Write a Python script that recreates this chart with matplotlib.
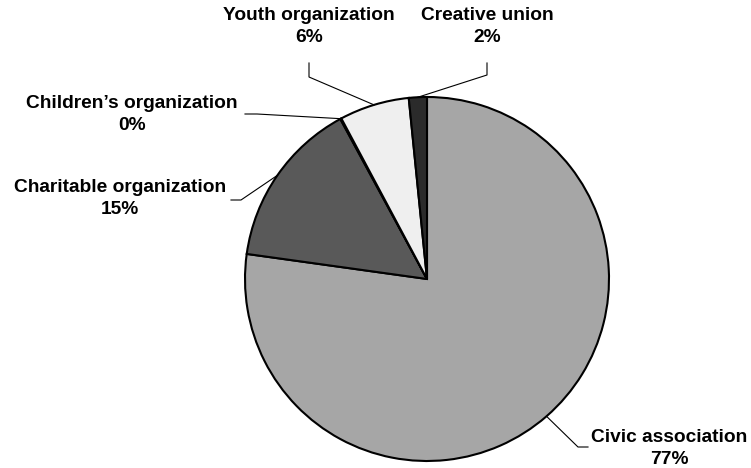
import numpy as np
import matplotlib
matplotlib.use("Agg")
import matplotlib.pyplot as plt

plt.rcParams.update({
    "font.family": ["Liberation Sans", "DejaVu Sans"],
    "font.weight": "bold",
})

categories = ["Civic association", "Charitable organization",
              "Children\u2019s organization", "Youth organization", "Creative union"]
shares = [77.2, 14.9, 0.1, 6.2, 1.6]
colors = ["#a6a6a6", "#595959", "#d9d9d9", "#efefef", "#2b2b2b"]

# label centre (x, y of the name line) and leader elbow points, pixels from top-left
label_pos = [(669, 437), (120, 187), (132, 103), (309, 15), (487, 15)]
elbows = [[(588, 447), (578, 447)],
          [(231, 200), (241, 200)],
          [(245, 114), (257, 114)],
          [(309, 63), (309, 77)],
          [(487, 63), (487, 75)]]

W, H = 751, 468
cx, cy, R = 427, 279, 182

fig = plt.figure(figsize=(W / 100, H / 100), dpi=100)
ax = fig.add_axes([0, 0, 1, 1])

wedges, _ = ax.pie(shares, colors=colors, startangle=90, counterclock=False,
                   center=(cx, H - cy), radius=R,
                   wedgeprops=dict(edgecolor="black", linewidth=1.5))
ax.set_xlim(0, W)
ax.set_ylim(0, H)
ax.set_aspect("equal")
ax.axis("off")

for w, name, val, (lx, ly), elb in zip(wedges, categories, shares, label_pos, elbows):
    ang = np.deg2rad((w.theta1 + w.theta2) / 2)
    px = cx + R * np.cos(ang)
    py = (H - cy) + R * np.sin(ang)
    xs = [e[0] for e in elb] + [px]
    ys = [H - e[1] for e in elb] + [py]
    ax.plot(xs, ys, color="black", linewidth=0.8)
    ax.text(lx, H - ly, name, ha="center", va="center",
            fontsize=13.8, fontweight="bold")
    ax.text(lx, H - ly - 23, f"{val:.0f}%", ha="center", va="center",
            fontsize=13.8, fontweight="bold")

fig.savefig("out.png", dpi=100)
